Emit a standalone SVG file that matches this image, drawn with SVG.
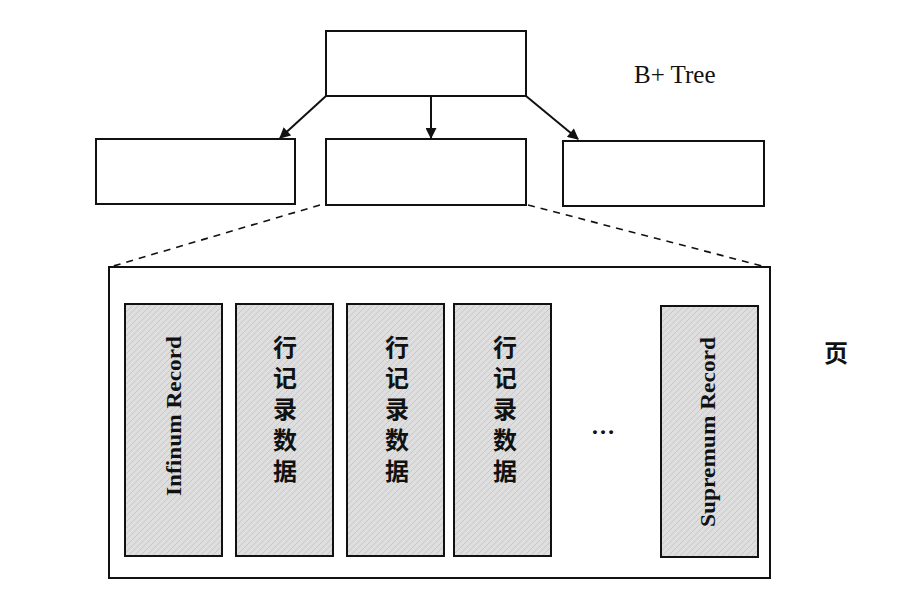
<svg xmlns="http://www.w3.org/2000/svg" width="917" height="600" viewBox="0 0 917 600">
<defs>
<style>
.box{fill:#fff;stroke:#111;stroke-width:2}
.col{fill:url(#tex);stroke:#111;stroke-width:2}
.conn{stroke:#111;stroke-width:2;fill:none}
.dash{stroke:#111;stroke-width:1.6;fill:none;stroke-dasharray:7 6}
.lbl{font-family:"Liberation Serif","Times New Roman",serif;fill:#111}
.cjk{font-family:"Noto Sans CJK SC",sans-serif;font-weight:bold;fill:#111;font-size:24px}
.vert{writing-mode:vertical-rl;text-orientation:upright;letter-spacing:7px}
</style>
<pattern id="tex" width="6" height="6" patternUnits="userSpaceOnUse">
<rect width="6" height="6" fill="#dedede"/>
<path d="M0 6L6 0M-1 1L1 -1M5 7L7 5" stroke="#c8c8c8" stroke-width="1"/>
</pattern>
<marker id="arr" viewBox="0 0 10 10" refX="9" refY="5" markerWidth="12" markerHeight="11" orient="auto" markerUnits="userSpaceOnUse">
<path d="M0 0L10 5L0 10z" fill="#111"/>
</marker>
</defs>
<rect width="917" height="600" fill="#fff"/>
<g id="connectors">
<line class="conn" x1="326" y1="96" x2="280" y2="138" marker-end="url(#arr)"/>
<line class="conn" x1="431" y1="96" x2="431" y2="138" marker-end="url(#arr)"/>
<line class="conn" x1="526" y1="96" x2="578" y2="139" marker-end="url(#arr)"/>
<line class="dash" x1="320" y1="205" x2="110" y2="267"/>
<line class="dash" x1="528" y1="205" x2="770" y2="268"/>
</g>
<g id="root"><rect class="box" x="326" y="31" width="200" height="65"/></g>
<g id="leftchild"><rect class="box" x="96" y="139" width="199" height="65"/></g>
<g id="midchild"><rect class="box" x="326" y="139" width="200" height="66"/></g>
<g id="rightchild"><rect class="box" x="563" y="141" width="201" height="65"/></g>
<g id="title"><text class="lbl" x="634" y="83" font-size="25">B+ Tree</text></g>
<g id="page">
<rect class="box" x="109" y="267" width="661" height="311"/>
</g>
<g id="infimum">
<rect class="col" x="125" y="304" width="97" height="252"/>
<text class="lbl" font-size="22" font-weight="bold" text-anchor="middle" transform="translate(181,416) rotate(-90)" textLength="160" lengthAdjust="spacingAndGlyphs">Infinum Record</text>
</g>
<g id="row1">
<rect class="col" x="236" y="304" width="97" height="252"/>
<text class="cjk vert" x="285" y="335">行记录数据</text>
</g>
<g id="row2">
<rect class="col" x="347" y="304" width="97" height="252"/>
<text class="cjk vert" x="397" y="335">行记录数据</text>
</g>
<g id="row3">
<rect class="col" x="454" y="304" width="97" height="252"/>
<text class="cjk vert" x="505" y="335">行记录数据</text>
</g>
<g id="ellipsis"><text class="lbl" x="603" y="434" font-size="24" font-weight="bold" text-anchor="middle">…</text></g>
<g id="supremum">
<rect class="col" x="661" y="306" width="97" height="251"/>
<text class="lbl" font-size="22" font-weight="bold" text-anchor="middle" transform="translate(715,432) rotate(-90)" textLength="190" lengthAdjust="spacingAndGlyphs">Supremum Record</text>
</g>
<g id="pagelabel"><text class="cjk" x="836" y="362" font-size="22" text-anchor="middle">页</text></g>
</svg>
